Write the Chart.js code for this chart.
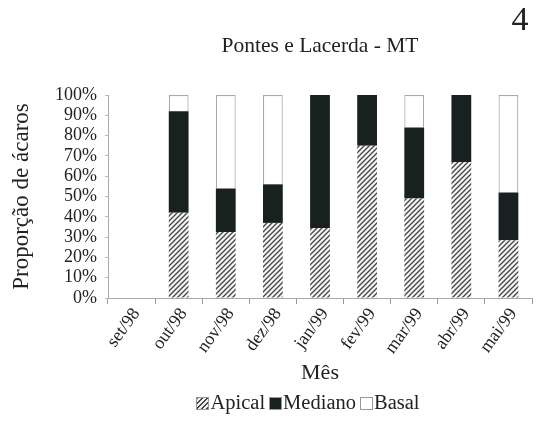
<!DOCTYPE html>
<html>
<head>
<meta charset="utf-8">
<script src="https://cdn.jsdelivr.net/npm/chart.js@4.4.0/dist/chart.umd.min.js"></script>
<style>
  html, body { margin: 0; padding: 0; background: #fff; }
  #wrap { width: 544px; height: 421px; position: relative; }
  #legend { position: absolute; left: 0; top: 391px; width: 616px; text-align: center;
            font-family: 'Liberation Serif', serif; font-size: 20.5px; color: #222; white-space: nowrap; }
  #legend span.item { margin: 0 2px; }
  #legend span.box { display: inline-block; width: 11px; height: 11px; border: 1px solid #999;
                     margin-right: 1px; vertical-align: -1px; }
</style>
</head>
<body>
<div id="wrap"><canvas id="chart"></canvas><div id="legend"></div></div>
<script>
const months = ['set/98', 'out/98', 'nov/98', 'dez/98', 'jan/99', 'fev/99', 'mar/99', 'abr/99', 'mai/99'];
// percentages (set/98 has no bar)
const apical  = [null, 42, 32.5, 37, 34.5, 75, 49, 67, 28.5];
const mediano = [null, 50, 21.5, 19, 65.5, 25, 35, 33, 23.5];
const basal   = [null, 8, 46, 44, 0, 0, 16, 0, 48];
const yTicks = [0, 10, 20, 30, 40, 50, 60, 70, 80, 90, 100];

const serif = "'Liberation Serif', 'DejaVu Serif', serif";

// diagonal hatch for the Apical series
function hatch() {
    const c = document.createElement('canvas');
    c.width = 5; c.height = 5;
    const g = c.getContext('2d');
    g.fillStyle = '#f4f4f4';
    g.fillRect(0, 0, 5, 5);
    g.strokeStyle = '#444';
    g.lineWidth = 1.3;
    g.beginPath();
    g.moveTo(-1, 6); g.lineTo(6, -1);
    g.moveTo(-1, 1); g.lineTo(1, -1);
    g.moveTo(4, 6); g.lineTo(6, 4);
    g.stroke();
    return g.createPattern(c, 'repeat');
}

// title over the plot area and the panel number in the corner
const headings = {
    id: 'headings',
    afterDraw(chart) {
        const ctx = chart.ctx;
        const a = chart.chartArea;
        ctx.save();
        ctx.fillStyle = '#222';
        ctx.textAlign = 'center';
        ctx.textBaseline = 'middle';
        ctx.font = '21.5px ' + serif;
        ctx.fillText('Pontes e Lacerda - MT', (a.left + a.right) / 2, 46);
        ctx.font = '34px ' + serif;
        ctx.fillText('4', 520, 21);
        ctx.restore();
    }
};

const ctx = document.getElementById('chart').getContext('2d');
const chart = new Chart(ctx, {
    type: 'bar',
    data: {
        labels: months,
        datasets: [
            { label: 'Apical', data: apical, backgroundColor: hatch(), borderWidth: 0 },
            { label: 'Mediano', data: mediano, backgroundColor: '#182020', borderWidth: 0 },
            { label: 'Basal', data: basal, backgroundColor: '#ffffff', borderColor: '#a8a8a8', borderWidth: 1.2 }
        ]
    },
    options: {
        responsive: true,
        maintainAspectRatio: false,
        animation: false,
        layout: { padding: { left: 0, right: 12, top: 95, bottom: 35 } },
        datasets: { bar: { categoryPercentage: 1, barPercentage: 0.42 } },
        plugins: {
            legend: { display: false },
            tooltip: { enabled: false }
        },
        scales: {
            x: {
                stacked: true,
                grid: { display: true, drawOnChartArea: false, color: '#999', tickLength: 6, offset: true },
                border: { color: '#aaa' },
                ticks: { color: '#222', font: { family: serif, size: 18 }, minRotation: 54, maxRotation: 54,
                         padding: 0, labelOffset: 5, autoSkip: false },
                title: { display: true, text: 'Mês', color: '#222', font: { family: serif, size: 22 }, padding: { top: 0, bottom: 0 } },
                afterFit(scale) { scale.height = 88; }
            },
            y: {
                stacked: true,
                min: 0,
                max: 100,
                afterBuildTicks(scale) { scale.ticks = yTicks.map(v => ({ value: v })); },
                grid: { display: true, drawOnChartArea: false, color: '#bbb', tickLength: 3 },
                border: { color: '#aaa' },
                ticks: { color: '#222', font: { family: serif, size: 18 }, padding: 8, autoSkip: false, callback: v => v + '%' },
                title: { display: true, text: 'Proporção de ácaros', color: '#222', font: { family: serif, size: 23 }, padding: { top: 8, bottom: 0 } },
                afterFit(scale) { scale.width = 108; }
            }
        }
    },
    plugins: [headings]
});

// legend row built from the datasets
const swatches = ['repeating-linear-gradient(135deg, #444 0 1.3px, #eee 1.3px 3.4px)', '#182020', '#fff'];
document.getElementById('legend').innerHTML = chart.data.datasets.map((d, i) =>
    `<span class="item"><span class="box" style="background:${swatches[i]}"></span>${d.label}</span>`).join('');
</script>
</body>
</html>
